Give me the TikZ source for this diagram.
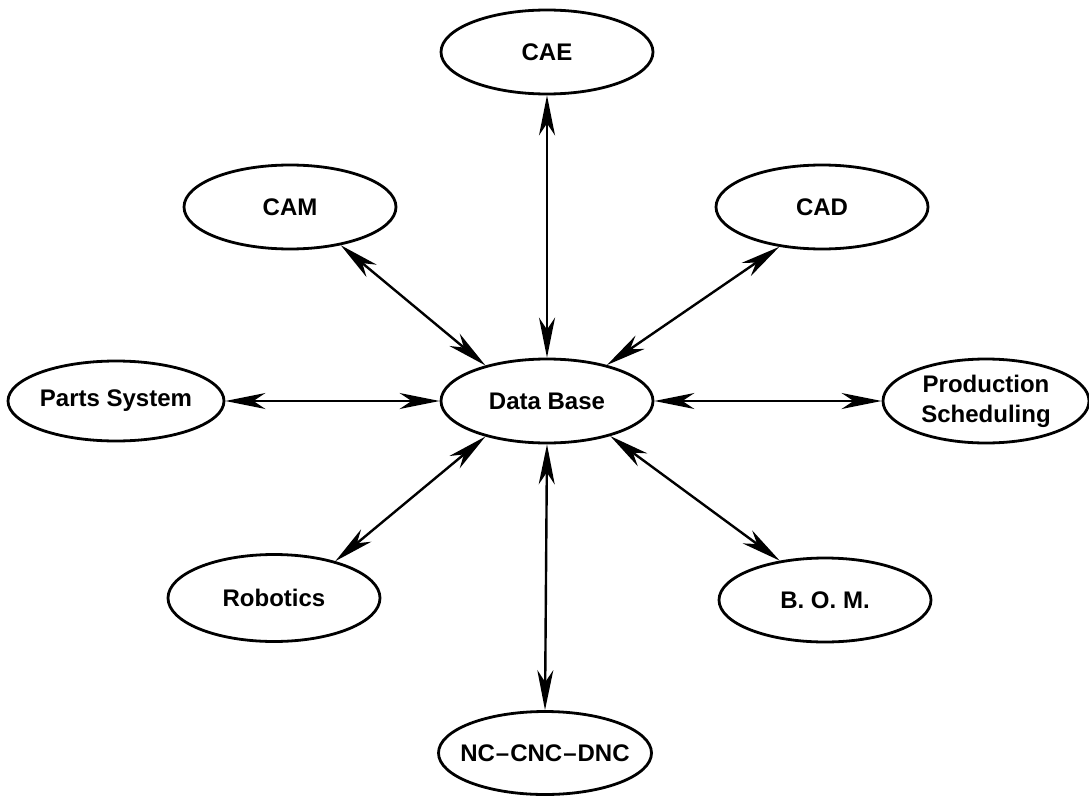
\documentclass[tikz,border=0pt]{standalone}
\usepackage{fontspec}
\setmainfont{Liberation Sans}
\usetikzlibrary{shapes.geometric,arrows.meta}
\begin{document}
\begin{tikzpicture}[x=1pt,y=-1pt,
  unit/.style={ellipse, draw, line width=2.8pt, inner sep=0pt,
    minimum width=212pt, minimum height=84pt,
    font=\bfseries\fontsize{24}{30}\selectfont, align=center},
  link/.style={line width=2.4pt, {Stealth[length=40pt,width=16pt,inset=12pt]}-{Stealth[length=40pt,width=16pt,inset=12pt]}}]
\useasboundingbox (0,0) rectangle (1089,797);

% the hub and the systems round it
\node[unit] (db)    at (547,401) {Data Base};
\node[unit] (cae)   at (547,52)  {CAE};
\node[unit] (cam)   at (290,207) {CAM};
\node[unit] (cad)   at (822,207) {CAD};
\node[unit, minimum width=216pt, minimum height=80pt] (parts) at (116,401) {Parts System};
\node[unit, minimum width=206pt] (prod) at (986,401) {Production\\Scheduling};
\node[unit, minimum height=87pt] (rob) at (274,598) {Robotics};
\node[unit] (bom)   at (825,600) {B.\ O.\ M.};
\node[unit, inner xsep=-18pt, minimum width=213pt, minimum height=83pt] (nc) at (545,753) {NC\kern1pt–\kern1ptCNC\kern1pt–\kern1ptDNC};

% two-way links to the data base
\draw[link] (cae.south) -- (db.north);
\draw[link] (cam.-37.5) -- (db.150.6);
\draw[link] (cad.223)   -- (db.31.9);
\draw[link] (parts.east) -- (db.west);
\draw[link] (db.east)   -- (prod.west);
\draw[link] (db.210.7)  -- (rob.31.4);
\draw[link] (db.331.4)  -- (bom.139.6);
\draw[link] (db.south)  -- (nc.north);
\end{tikzpicture}
\end{document}
